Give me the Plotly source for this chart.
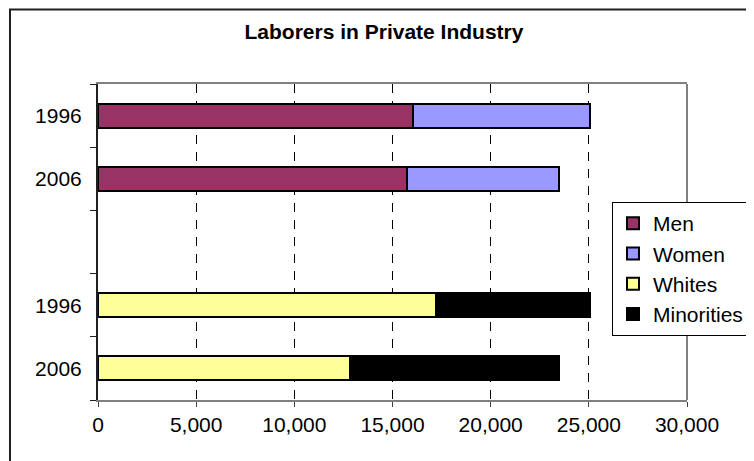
import plotly.graph_objects as go

# Data
row_labels = ["1996", "2006", "", "1996", "2006"]
gender_rows = [0, 1]
race_rows = [3, 4]
men = [16060, 15750]
women = [8990, 7730]
whites = [17230, 12860]
minorities = [7820, 10620]

FONT = "Liberation Sans, Arial, sans-serif"
BW = 0.38
FS = 21

# page body has an 8px margin: figure drawn at (8,8)
W, H = 746, 453
PL, PR, PT, PB = 98 - 8, 687 - 8, 84 - 8, 400 - 8  # plot area in figure px
pw, ph = PR - PL, PB - PT

fig = go.Figure()
fig.add_trace(go.Bar(name="Men", y=gender_rows, x=men, orientation="h", width=BW,
                     marker=dict(color="#993366", line=dict(color="#000000", width=2))))
fig.add_trace(go.Bar(name="Women", y=gender_rows, x=women, orientation="h", width=BW,
                     marker=dict(color="#9999FF", line=dict(color="#000000", width=2))))
fig.add_trace(go.Bar(name="Whites", y=race_rows, x=whites, orientation="h", width=BW,
                     marker=dict(color="#FFFF99", line=dict(color="#000000", width=2))))
fig.add_trace(go.Bar(name="Minorities", y=race_rows, x=minorities, orientation="h", width=BW,
                     marker=dict(color="#000000", line=dict(color="#000000", width=2))))

n = len(row_labels)
boundaries = [i - 0.5 for i in range(n + 1)]

def px_x(px):
    return (px - 8 - PL) / pw

def px_y(py):
    return (PB - (py - 8)) / ph

fig.update_layout(
    width=W, height=H,
    barmode="stack",
    paper_bgcolor="white", plot_bgcolor="white",
    margin=dict(l=PL, r=W - PR, t=PT, b=H - PB, autoexpand=False),
    font=dict(family=FONT, size=FS, color="black"),
    title=dict(text="<b>Laborers in Private Industry</b>", x=(384 - 8) / W, xanchor="center",
               xref="container", y=1 - (32 - 8) / H, yanchor="middle",
               font=dict(family=FONT, size=FS, color="black")),
    xaxis=dict(range=[0, 30000], dtick=5000, tick0=0, tickformat=",d",
               showgrid=True, gridcolor="#000000", gridwidth=1, griddash="9px,8px",
               showline=True, linecolor="#808080", linewidth=2, mirror=True,
               ticks="outside", ticklen=5, tickcolor="#404040", tickwidth=1,
               ticklabelstandoff=0, zeroline=False,
               tickfont=dict(family=FONT, size=FS, color="black")),
    yaxis=dict(range=[n - 0.5, -0.5], tickvals=list(range(n)), ticktext=row_labels,
               showgrid=False, zeroline=False,
               showline=True, linecolor="#202020", linewidth=2,
               ticks="", ticklabelstandoff=10,
               minor=dict(tickvals=boundaries, ticks="outside", ticklen=6,
                          tickcolor="#202020", tickwidth=1, showgrid=False),
               tickfont=dict(family=FONT, size=FS, color="black")),
    legend=dict(x=px_x(612), y=px_y(202), xanchor="left", yanchor="top",
                bgcolor="white", bordercolor="#000000", borderwidth=1,
                font=dict(family=FONT, size=FS, color="black"),
                itemwidth=30, tracegroupgap=0, traceorder="normal"),
    showlegend=True,
    bargap=0,
)

# plot-area right border (gray) and outer chart border (black)
fig.add_shape(type="line", xref="paper", yref="paper", x0=1, x1=1, y0=0, y1=1,
              line=dict(color="#808080", width=2))
fig.add_shape(type="rect", xref="paper", yref="paper",
              x0=px_x(10), x1=px_x(800), y0=px_y(520), y1=px_y(9.5),
              line=dict(color="#202020", width=2), layer="below")

fig.write_html("out.html")
